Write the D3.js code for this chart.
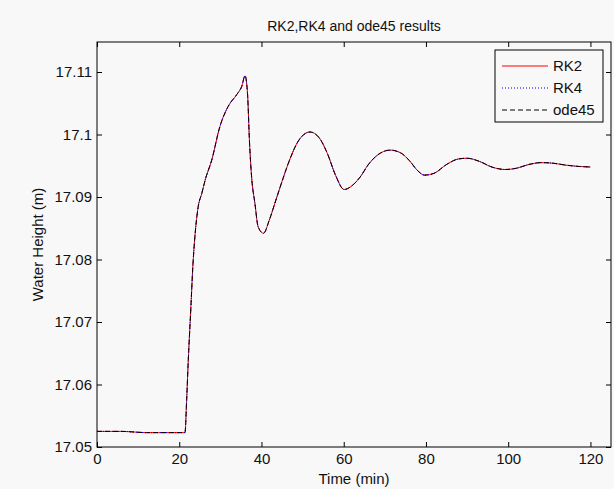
<!DOCTYPE html>
<html>
<head>
<meta charset="utf-8">
<script src="https://cdn.jsdelivr.net/npm/d3@7"></script>
<style>
  html, body { margin: 0; padding: 0; background: #f8f8f8; }
  svg text { font-family: "Liberation Sans", Arial, sans-serif; fill: #111; }
</style>
</head>
<body>
<svg id="canvas"></svg>
<script>
// time (min) and water height (m)
let times = [0, 3, 6, 9, 12, 15, 18, 21.4, 21.8, 22.2, 22.8, 23.3, 23.8, 24.6, 25.5, 26.3, 27.9, 29.9, 31.9, 34.0, 35.2, 36.0,
  36.6, 37.1, 37.6, 38.4, 39.2, 40.5, 41.9, 43.5, 45, 47, 49, 51.8, 54, 56, 58, 60.1, 62, 64, 66, 68, 71.3,
  74, 76, 78, 79.6, 82, 85, 88, 90, 93, 96, 99.3, 102, 105, 108, 111, 114, 117, 120];
let heights = [17.0525, 17.0525, 17.0525, 17.0524, 17.0523, 17.0523, 17.0523, 17.0523, 17.0575, 17.0639, 17.0719, 17.0788, 17.0836, 17.0884, 17.0906, 17.0927, 17.0959, 17.1013, 17.1045, 17.1064, 17.1077, 17.1094,
  17.1066, 17.0986, 17.0932, 17.089, 17.0852, 17.0842, 17.0863, 17.0895, 17.0925, 17.0962, 17.099, 17.1004, 17.0995, 17.097, 17.0935, 17.0912, 17.0918, 17.0932, 17.0952, 17.0966, 17.0975,
  17.097, 17.0958, 17.0942, 17.0935, 17.0938, 17.0952, 17.0961, 17.0962, 17.0957, 17.0948, 17.0944, 17.0946, 17.0952, 17.0955, 17.0954, 17.0951, 17.0949, 17.0948];

let seriesNames = ['RK2', 'RK4', 'ode45'];
let seriesColors = ['#ff0000', '#0000ff', '#000000'];
let seriesDash = ['none', '1,2', '5,3'];

let xTicks = [0, 20, 40, 60, 80, 100, 120];
let yTicks = [17.05, 17.06, 17.07, 17.08, 17.09, 17.1, 17.11];

let width = 614;
let height = 489;
let padLeft = 97, padRight = 611, padTop = 42, padBottom = 447;

let canvas = d3.select('#canvas').attr('width', width).attr('height', height);

let xScale = d3.scaleLinear().domain([0, 125]).range([padLeft, padRight]);
let yScale = d3.scaleLinear().domain([17.05, 17.1148]).range([padBottom, padTop]);

let values = times.map((t, i) => ({ t: t, h: heights[i] }));

canvas.append('defs').append('clipPath').attr('id', 'clip')
  .append('rect').attr('x', padLeft).attr('y', padTop).attr('width', padRight - padLeft).attr('height', padBottom - padTop);

let line = d3.line()
  .x(d => xScale(d.t))
  .y(d => yScale(d.h))
  .curve(d3.curveMonotoneX);

let plot = canvas.append('g').attr('clip-path', 'url(#clip)');
seriesNames.forEach((name, i) => {
  plot.append('path')
    .datum(values)
    .attr('fill', 'none')
    .attr('stroke', seriesColors[i])
    .attr('stroke-width', 1)
    .attr('stroke-dasharray', seriesDash[i])
    .attr('d', line);
});

// axes, ticks inside on all four sides
let tickLen = 5;
let styleAxis = g => {
  g.select('.domain').remove();
  g.selectAll('line').attr('stroke', '#000');
  g.selectAll('text').style('font-size', '15px');
};

canvas.append('g')
  .attr('transform', 'translate(0,' + padBottom + ')')
  .call(d3.axisBottom(xScale).tickValues(xTicks).tickSize(-tickLen).tickPadding(6).tickFormat(d3.format('d')))
  .call(styleAxis);
canvas.append('g')
  .attr('transform', 'translate(0,' + padTop + ')')
  .call(d3.axisTop(xScale).tickValues(xTicks).tickSize(-tickLen).tickFormat(''))
  .call(styleAxis);
canvas.append('g')
  .attr('transform', 'translate(' + padLeft + ',0)')
  .call(d3.axisLeft(yScale).tickValues(yTicks).tickSize(-tickLen).tickPadding(5).tickFormat(d => String(+d.toFixed(2))))
  .call(styleAxis);
canvas.append('g')
  .attr('transform', 'translate(' + padRight + ',0)')
  .call(d3.axisRight(yScale).tickValues(yTicks).tickSize(-tickLen).tickFormat(''))
  .call(styleAxis);

canvas.append('rect')
  .attr('x', padLeft).attr('y', padTop).attr('width', padRight - padLeft).attr('height', padBottom - padTop)
  .attr('fill', 'none').attr('stroke', '#000').attr('stroke-width', 1);

// labels
canvas.append('text').attr('x', (padLeft + padRight) / 2).attr('y', 31).attr('text-anchor', 'middle')
  .style('font-size', '14px').text('RK2,RK4 and ode45 results');
canvas.append('text').attr('x', (padLeft + padRight) / 2).attr('y', 484).attr('text-anchor', 'middle')
  .style('font-size', '15px').text('Time (min)');
canvas.append('text').attr('transform', 'translate(43,' + (padTop + padBottom) / 2 + ') rotate(-90)')
  .attr('text-anchor', 'middle').style('font-size', '15px').text('Water Height (m)');

// legend
let legend = canvas.append('g');
legend.append('rect').attr('x', 495).attr('y', 50).attr('width', 108).attr('height', 72)
  .attr('fill', '#f8f8f8').attr('stroke', '#000');
seriesNames.forEach((name, i) => {
  let y = 66 + i * 22;
  legend.append('line').attr('x1', 502).attr('x2', 548).attr('y1', y).attr('y2', y)
    .attr('stroke', seriesColors[i]).attr('stroke-dasharray', seriesDash[i]);
  legend.append('text').attr('x', 553).attr('y', y + 5).style('font-size', '15px').text(name);
});
</script>
</body>
</html>
